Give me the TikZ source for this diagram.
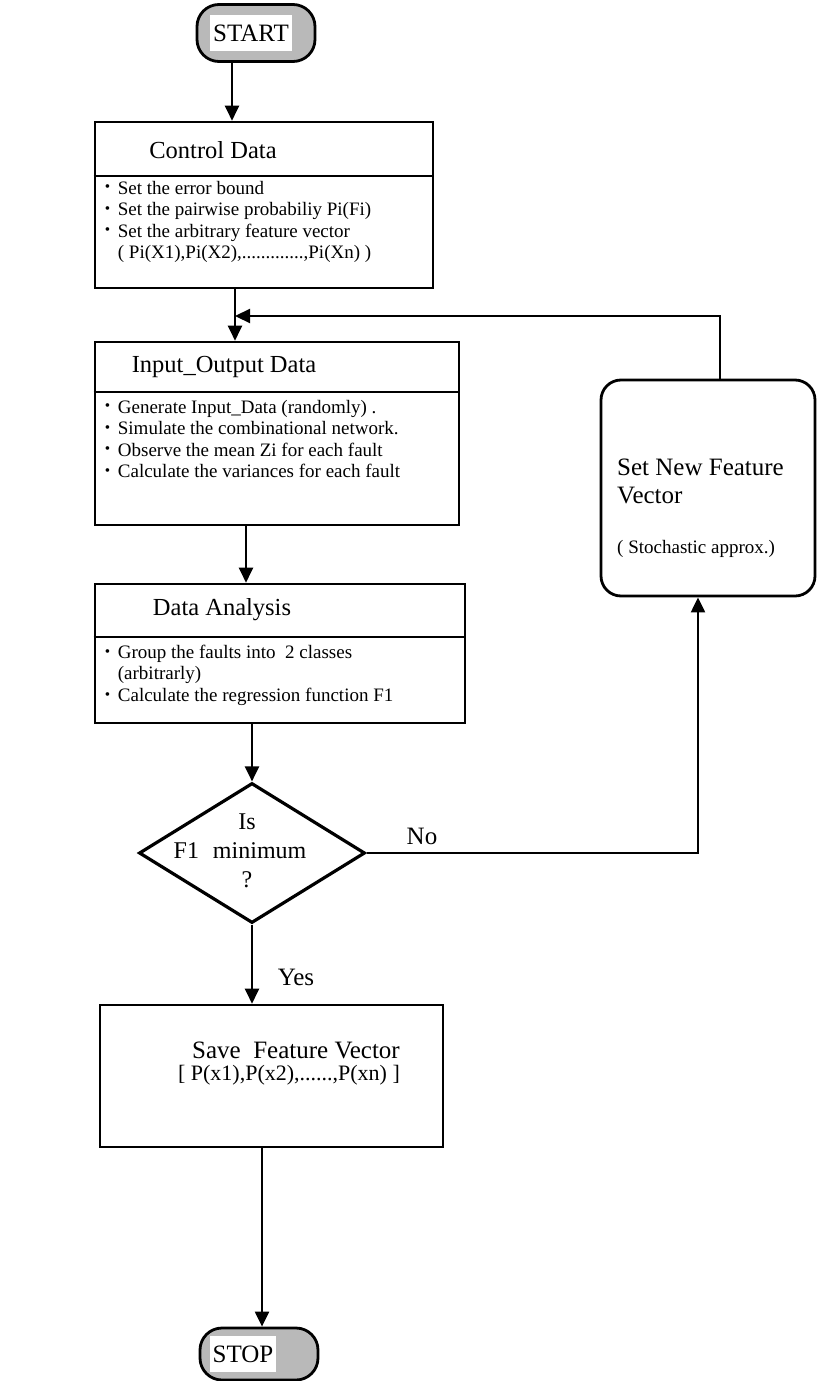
\documentclass[tikz,border=0pt]{standalone}
\usepackage{fontspec}
\setmainfont{Liberation Serif}
\usetikzlibrary{shapes.geometric,arrows.meta,calc}
\newcommand{\bul}{\makebox[13pt][l]{\raisebox{0.25ex}{\scalebox{0.8}{\textbullet}}}}
\begin{document}
\begin{tikzpicture}[x=1pt,y=-1pt,
  box/.style={draw, rectangle, line width=2.6pt, inner sep=0pt},
  sepline/.style={line width=2.3pt},
  ttl/.style={font=\fontsize{24.5}{28}\selectfont, inner sep=0pt},
  body/.style={font=\fontsize{19}{21.5}\selectfont, align=left, anchor=north west, inner sep=0pt},
  big/.style={font=\fontsize{25}{28}\selectfont, inner sep=0pt},
  arr/.style={line width=2.2pt, -{Triangle[length=15pt,width=14pt]}},
  pill/.style={draw, rectangle, rounded corners=22pt, line width=2.8pt, fill=gray!55, inner sep=0pt},
  pilltext/.style={fill=white, font=\fontsize{25}{27}\selectfont, inner sep=3pt, minimum height=36pt}
]
\useasboundingbox (0,0) rectangle (819,1381);

% terminals
\node[pill, minimum width=118pt, minimum height=57pt] (start) at (256,33) {};
\node[pilltext] (starttxt) at (251,33) {START};
\node[pill, minimum width=118pt, minimum height=52pt] (stop) at (259,1354) {};
\node[pilltext] (stoptxt) at (243,1354) {STOP};

% Control Data
\node[box, minimum width=338pt, minimum height=166pt] (cd) at (264,205) {};
\draw[sepline] ([yshift=-55pt]cd.north west) -- ([yshift=-55pt]cd.north east);
\node[ttl] (cdt) at (213,150) {Control Data};
\node[body] (cdb) at ([xshift=11pt,yshift=-60pt]cd.north west)
  {\bul Set the error bound\\
   \bul Set the pairwise probabiliy Pi(Fi)\\
   \bul Set the arbitrary feature vector\\
   \hspace{13pt}( Pi(X1),Pi(X2),.............,Pi(Xn) )};

% Input_Output Data
\node[box, minimum width=364pt, minimum height=183pt] (io) at (277,433.5) {};
\draw[sepline] ([yshift=-51pt]io.north west) -- ([yshift=-51pt]io.north east);
\node[ttl] (iot) at (224,367) {Input\_Output Data};
\node[body] (iob) at ([xshift=11pt,yshift=-59pt]io.north west)
  {\bul Generate Input\_Data (randomly) .\\
   \bul Simulate the combinational network.\\
   \bul Observe the mean Zi for each fault\\
   \bul Calculate the variances for each fault};

% Data Analysis
\node[box, minimum width=370pt, minimum height=139pt] (da) at (280,653.5) {};
\draw[sepline] ([yshift=-54pt]da.north west) -- ([yshift=-54pt]da.north east);
\node[ttl] (dat) at (222,610) {Data Analysis};
\node[body] (dab) at ([xshift=11pt,yshift=-62pt]da.north west)
  {\bul Group the faults into\ \ 2 classes\\
   \hspace{13pt}(arbitrarly)\\
   \bul Calculate the regression function F1};

% decision
\node[diamond, draw, line width=3.2pt, aspect=1.6, minimum width=226pt, minimum height=140pt, inner sep=0pt] (dec) at (252,853) {};
\node[align=center, inner sep=0pt, font=\fontsize{24}{29}\selectfont] (dect) at (240,851) {\hspace*{14pt}Is\\F1\hspace{14pt}minimum\\\hspace*{14pt}?};

% new feature vector
\node[draw, rectangle, rounded corners=20pt, line width=2.8pt, minimum width=214pt, minimum height=216pt, inner sep=0pt] (snfv) at (708,488) {};
\node[big, align=left, anchor=north west] (snfvt) at (617,459) {Set New Feature\\Vector};
\node[body, font=\fontsize{19}{21}\selectfont] (snfvs) at (617,540) {( Stochastic approx.)};

% save feature vector
\node[box, minimum width=343pt, minimum height=142pt] (sfv) at (271.5,1076) {};
\node[big] (sfvt) at (296,1050) {Save\ \ Feature Vector};
\node[inner sep=0pt, font=\fontsize{22}{24}\selectfont] (sfvv) at (289,1075) {[ P(x1),P(x2),......,P(xn) ]};

% labels
\node[big] (nolab) at (422,836) {No};
\node[big] (yeslab) at (296,977) {Yes};

% connectors
\coordinate (x1) at (232,0);
\coordinate (x2) at (235,0);
\coordinate (x3) at (246,0);
\coordinate (x6) at (262,0);
\coordinate (fb) at (235,316);
\coordinate (up) at (720,316);
\coordinate (rt) at (698,853);

\draw[arr] (start.south -| x1) -- (cd.north -| x1);
\draw[arr] (cd.south -| x2) -- (io.north -| x2);
\draw[arr] (io.south -| x3) -- (da.north -| x3);
\draw[arr] (da.south -| dec.north) -- (dec.north);
\draw[arr] (dec.south) -- (sfv.north -| dec.south);
\draw[arr] (sfv.south -| x6) -- (stop.north -| x6);
\draw[arr] (dec.east) -- (rt) -- (snfv.south -| rt);
\draw[arr] (snfv.north -| up) -- (up) -- (fb);
\end{tikzpicture}
\end{document}
